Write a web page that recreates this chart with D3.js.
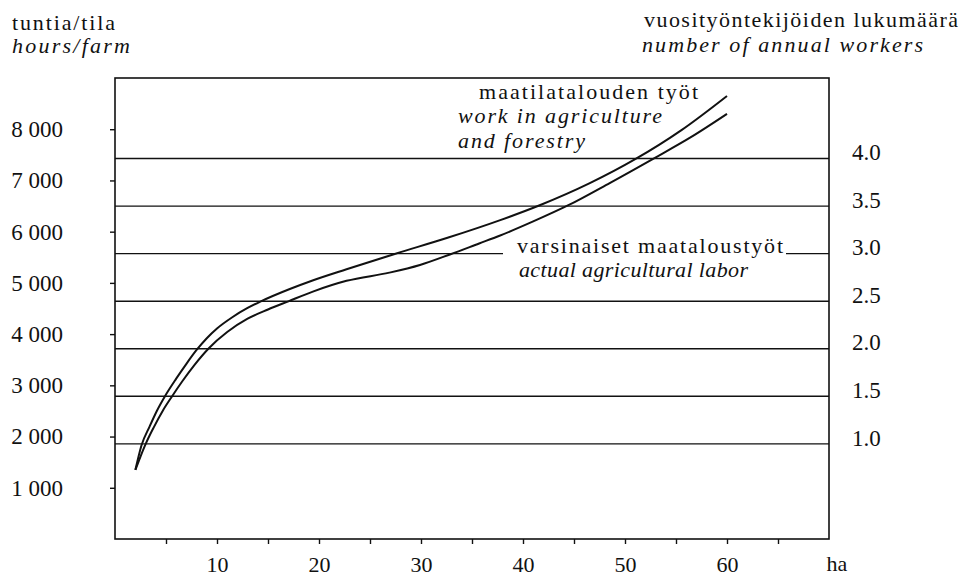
<!DOCTYPE html>
<html>
<head>
<meta charset="utf-8">
<script src="https://cdn.jsdelivr.net/npm/d3@7"></script>
<style>
  body { margin: 0; background: #fff; }
  text { font-family: "Liberation Serif", "Times New Roman", serif; fill: #111; }
</style>
</head>
<body>
<svg></svg>
<script>
// Data
const hoursTicks = [1000, 2000, 3000, 4000, 5000, 6000, 7000, 8000]
const workerTicks = [1.0, 1.5, 2.0, 2.5, 3.0, 3.5, 4.0]
const haTicks = [5, 10, 15, 20, 25, 30, 35, 40, 45, 50, 55, 60, 65]

// maatilatalouden työt / work in agriculture and forestry
const haTotal    = [2, 2.6, 3.4, 4.1, 4.9, 6, 7, 8, 9, 10, 11.5, 13, 14.3, 17.2, 19.3, 22.7, 27.5, 32.6, 37.7, 41.7, 46.5, 51, 55.5, 60]
const hoursTotal = [1350, 1830, 2200, 2500, 2788, 3130, 3420, 3690, 3920, 4110, 4330, 4510, 4640, 4886, 5043, 5267, 5570, 5880, 6220, 6520, 6942, 7415, 7978, 8650]

// varsinaiset maataloustyöt / actual agricultural labor
const haActual    = [2, 2.5, 3, 3.8, 4.7, 5.6, 6.6, 7.8, 9.2, 11, 13, 15, 17, 19.4, 22.7, 26.9, 29.9, 32.9, 35.7, 37.7, 41, 44.4, 48.5, 52.8, 56.5, 60]
const hoursActual = [1350, 1610, 1852, 2180, 2510, 2788, 3080, 3400, 3724, 4040, 4300, 4480, 4640, 4830, 5040, 5200, 5350, 5560, 5770, 5920, 6200, 6512, 6950, 7428, 7850, 8300]

const hoursPerWorker = 1857

const width = 965
const height = 576

const svg = d3.select('svg')
              .attr('width', width)
              .attr('height', height)

// Scales
const xScale = d3.scaleLinear().domain([0, 70]).range([115, 829])
const yScale = d3.scaleLinear().domain([0, 9000]).range([539, 78])
const wScale = d3.scaleLinear().domain([0, 9000 / hoursPerWorker]).range([539, 78])

const spaced = d3.formatLocale({decimal: '.', thousands: ' ', grouping: [3], currency: ['', '']}).format(',')

// helper for the typeset labels (widths stretched like the print)
let label = (x, y, str, w, italic, size) => {
    const t = svg.append('text')
        .attr('x', x).attr('y', y)
        .attr('font-size', size || 23)
        .attr('font-style', italic ? 'italic' : 'normal')
        .text(str)
    if (w) t.attr('textLength', w).attr('lengthAdjust', 'spacing')
    return t
}

// Frame
svg.append('rect')
    .attr('x', xScale(0)).attr('y', yScale(9000))
    .attr('width', xScale(70) - xScale(0))
    .attr('height', yScale(0) - yScale(9000))
    .attr('fill', 'none').attr('stroke', '#111').attr('stroke-width', 1.6)

// Curve labels
label(479, 99, 'maatilatalouden työt', 219, false, 22)
label(458, 123, 'work in agriculture', 204, true, 22)
label(458, 148, 'and forestry', 127, true, 22)
const actualLbl = label(517, 253, 'varsinaiset maataloustyöt', 266, false, 22)
label(519, 277, 'actual agricultural labor', 229, true, 22)
const box = actualLbl.node().getBBox()

// Worker lines (3.0 line broken by the label)
workerTicks.forEach(w => {
    const segs = w === 3.0
        ? [[xScale(0), box.x - 14], [box.x + box.width + 3, xScale(70)]]
        : [[xScale(0), xScale(70)]]
    segs.forEach(s => {
        svg.append('line')
            .attr('x1', s[0]).attr('x2', s[1])
            .attr('y1', wScale(w)).attr('y2', wScale(w))
            .attr('stroke', '#111').attr('stroke-width', 1.4)
    })
})

// Axes
const leftAxis = svg.append('g')
    .attr('transform', 'translate(' + xScale(0) + ',0)')
    .call(d3.axisLeft(yScale).tickValues(hoursTicks).tickSize(5).tickPadding(47).tickFormat(spaced))
const rightAxis = svg.append('g')
    .attr('transform', 'translate(' + xScale(70) + ',0)')
    .call(d3.axisRight(wScale).tickValues(workerTicks).tickSize(0).tickPadding(23).tickFormat(d3.format('.1f')))
const bottomAxis = svg.append('g')
    .attr('transform', 'translate(0,' + yScale(0) + ')')
    .call(d3.axisBottom(xScale).tickValues(haTicks).tickSize(5).tickPadding(12).tickFormat(d => d % 10 ? '' : d))

;[leftAxis, rightAxis, bottomAxis].forEach(g => {
    g.attr('font-family', null).attr('font-size', null)
    g.select('.domain').remove()
    g.selectAll('line').attr('stroke', '#111').attr('stroke-width', 1.4)
    g.selectAll('text').attr('font-size', 23).attr('fill', '#111')
})
rightAxis.selectAll('text').attr('dy', '0.05em')
bottomAxis.selectAll('text').attr('font-size', 22)

svg.append('text')
    .attr('x', xScale(70) + 8).attr('y', 571)
    .attr('text-anchor', 'middle').attr('font-size', 22)
    .text('ha')

// Axis titles
label(12, 30, 'tuntia/tila', 103, false, 22)
label(12, 53, 'hours/farm', 118, true, 22)
label(644, 27, 'vuosityöntekijöiden lukumäärä', 314, false, 22)
label(642, 52, 'number of annual workers', 281, true, 22)

// Curves
const line = d3.line()
    .x(d => xScale(d[0]))
    .y(d => yScale(d[1]))
    .curve(d3.curveMonotoneX)

let drawCurve = (xs, ys) => {
    svg.append('path')
        .datum(xs.map((v, i) => [v, ys[i]]))
        .attr('d', line)
        .attr('fill', 'none')
        .attr('stroke', '#111')
        .attr('stroke-width', 2)
}
drawCurve(haTotal, hoursTotal)
drawCurve(haActual, hoursActual)
</script>
</body>
</html>
